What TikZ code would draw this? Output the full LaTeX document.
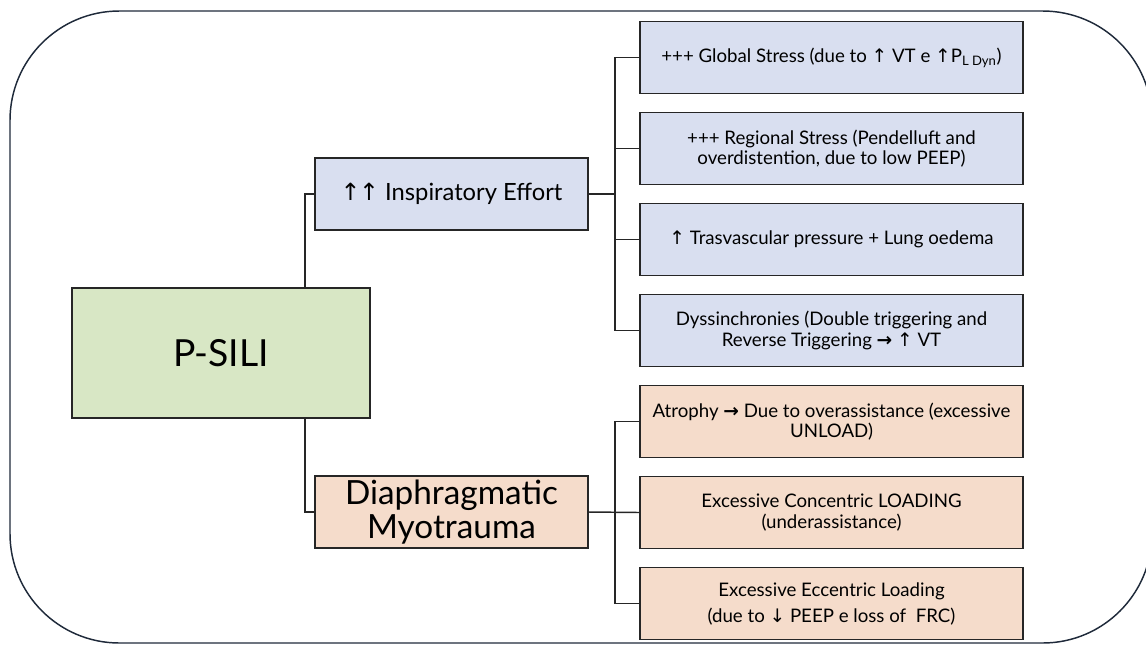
\documentclass[tikz,border=0pt]{standalone}
\usepackage{fontspec}
\setmainfont{Lato}
\newfontfamily\symfont{DejaVu Sans}
\usepackage{tikz}
\usetikzlibrary{positioning}

\newcommand{\uarr}{{\symfont ↑}}
\newcommand{\darr}{{\symfont ↓}}
\newcommand{\rarr}{{\symfont\bfseries →}}

\definecolor{rootgreen}{HTML}{D8E7C5}
\definecolor{effortblue}{HTML}{D9DFF0}
\definecolor{traumaorange}{HTML}{F5DCCB}
\definecolor{framenavy}{HTML}{1F2A3A}

\begin{document}
\begin{tikzpicture}[x=0.75pt, y=-0.75pt,
    cellbox/.style={draw=black!85, line width=1.2pt, align=center, inner sep=2pt},
    rootbox/.style={cellbox, fill=rootgreen, minimum width=223.5pt, minimum height=97.5pt, font=\fontsize{28}{32}\selectfont},
    midbox/.style={cellbox, minimum width=204.75pt, minimum height=54pt},
    leafbox/.style={cellbox, minimum width=287.25pt, minimum height=54pt, font=\fontsize{14}{15.5}\selectfont},
    link/.style={draw=black!85, line width=1.1pt}]
    \useasboundingbox (0,0) rectangle (1146,644);

    % Outer frame
    \draw[framenavy, line width=1.1pt, rounded corners=82pt] (10,11) rectangle (1152,643);

    % Root
    \node (psili) at (221,353) [rootbox] {P-SILI};

    % Two branches
    \node (effort) at (451.5,194) [midbox, fill=effortblue, font=\fontsize{17.8}{22}\selectfont] {\uarr\kern-1pt\uarr\ Inspiratory Effort};
    \node (trauma) at (451.5,512) [midbox, fill=traumaorange, font=\fontsize{25}{26}\selectfont] {Diaphragmatic\\Myotrauma};

    % Effort leaves
    \node (g1) at (831.5,57.5) [leafbox, fill=effortblue] {+++ Global Stress (due to \uarr\ VT e \uarr P\textsubscript{L Dyn})};
    \node (g2) at (831.5,148.5) [leafbox, fill=effortblue] {+++ Regional Stress (Pendelluft and\\overdistention, due to low PEEP)};
    \node (g3) at (831.5,239.5) [leafbox, fill=effortblue] {\uarr\ Trasvascular pressure + Lung oedema};
    \node (g4) at (831.5,330.5) [leafbox, fill=effortblue] {Dyssinchronies (Double triggering and\\Reverse Triggering \rarr\ \uarr\ VT};

    % Myotrauma leaves
    \node (m1) at (831.5,421.5) [leafbox, fill=traumaorange] {Atrophy \rarr\ Due to overassistance (excessive\\UNLOAD)};
    \node (m2) at (831.5,512.5) [leafbox, fill=traumaorange] {Excessive Concentric LOADING\\(underassistance)};
    \node (m3) at (831.5,603.5) [leafbox, fill=traumaorange] {Excessive Eccentric Loading\\[4pt](due to \darr\ PEEP e loss of\ \ FRC)};

    % Root to branches
    \coordinate (rootbus) at (305,353);
    \draw[link] (rootbus |- psili.north) |- (effort.west);
    \draw[link] (rootbus |- psili.south) |- (trauma.west);

    % Branches to leaves
    \coordinate (effbus) at (615,194);
    \draw[link] (effort.east) -- (effbus);
    \draw[link] (g1.west) -| (effbus |- g4.west) -- (g4.west);
    \foreach \n in {g2,g3}
        \draw[link] (effbus |- \n.west) -- (\n.west);

    \coordinate (trbus) at (615,512);
    \draw[link] (trauma.east) -- (m2.west);
    \draw[link] (m1.west) -| (trbus |- m3.west) -- (m3.west);
\end{tikzpicture}
\end{document}
